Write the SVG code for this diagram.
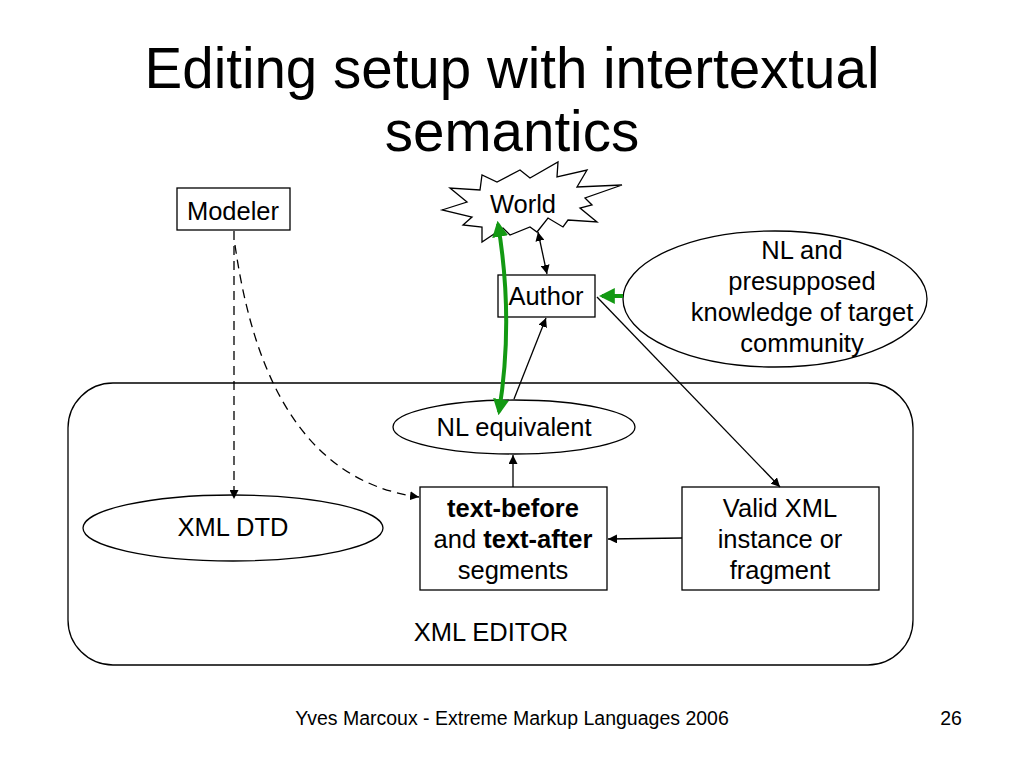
<svg xmlns="http://www.w3.org/2000/svg" width="1024" height="768" viewBox="0 0 1024 768">
<defs>
<style>
text{font-family:"Liberation Sans",Arial,sans-serif;fill:#000}
.t{font-size:25.5px;text-anchor:middle}
.shape{fill:#fff;stroke:#000;stroke-width:1.3}
.ln{fill:none;stroke:#000;stroke-width:1.3}
.dash{stroke-dasharray:9,6}
.g{fill:none;stroke:#139913;stroke-width:4}
</style>
<marker id="ah" viewBox="0 0 10 10" refX="10" refY="5" markerWidth="9" markerHeight="9" markerUnits="userSpaceOnUse" orient="auto-start-reverse"><path d="M0,0 L10,5 L0,10 z" fill="#000"/></marker>
<marker id="gh" viewBox="0 0 10 10" refX="8" refY="5" markerWidth="4" markerHeight="4" orient="auto-start-reverse"><path d="M0,0 L10,5 L0,10 z" fill="#139913"/></marker>
</defs>
<rect width="1024" height="768" fill="#fff"/>
<text x="512" y="88" font-size="56.5" text-anchor="middle">Editing setup with intertextual</text>
<text x="512" y="151" font-size="56.5" text-anchor="middle">semantics</text>

<g id="editor"><rect class="shape" x="68" y="383" width="845" height="282" rx="45"/><text class="t" x="491" y="641">XML EDITOR</text></g>

<g id="world"><polygon class="shape" points="442,210 467,202 450,188 480,190 482,175 497,182 520,170 530,178 558,162 557,177 587,170 577,187 622,185 585,198 592,205 580,208 597,222 568,220 563,227 548,218 537,232 530,227 510,235 503,228 482,242 482,227 463,225 472,217"/><text class="t" x="523" y="213">World</text></g>
<g id="modeler"><rect class="shape" x="177" y="188" width="113" height="42"/><text class="t" x="233" y="220">Modeler</text></g>
<g id="author"><rect class="shape" x="498" y="275" width="97" height="42"/><text class="t" x="546" y="305">Author</text></g>
<g id="nlknow"><ellipse class="shape" cx="775" cy="299" rx="152" ry="68"/><text class="t" x="802" y="259">NL and</text><text class="t" x="802" y="290">presupposed</text><text class="t" x="802" y="321">knowledge of target</text><text class="t" x="802" y="352">community</text></g>
<g id="nleq"><ellipse class="shape" cx="514" cy="427" rx="121" ry="27"/><text class="t" x="514" y="436">NL equivalent</text></g>
<g id="dtd"><ellipse class="shape" cx="233" cy="528" rx="150" ry="33"/><text class="t" x="233" y="536">XML DTD</text></g>
<g id="segs"><rect class="shape" x="420" y="487" width="187" height="103"/><text class="t" x="513" y="517" font-weight="bold">text-before</text><text class="t" x="513" y="548">and <tspan font-weight="bold">text-after</tspan></text><text class="t" x="513" y="579">segments</text></g>
<g id="valid"><rect class="shape" x="682" y="487" width="197" height="103"/><text class="t" x="780" y="517">Valid XML</text><text class="t" x="780" y="548">instance or</text><text class="t" x="780" y="579">fragment</text></g>

<g id="connectors">
<path class="ln dash" d="M234,231 V499" marker-end="url(#ah)"/>
<path class="ln dash" d="M235,245 C250,350 290,480 419,497" marker-end="url(#ah)"/>
<path class="ln" d="M514,399 L546,318" marker-end="url(#ah)"/>
<path class="ln" d="M513,487 V455" marker-end="url(#ah)"/>
<path class="ln" d="M682,538 L608,539" marker-end="url(#ah)"/>
<path class="ln" d="M597,297 L780,487" marker-end="url(#ah)"/>
<path class="ln" d="M538,232 L547,274" marker-start="url(#ah)" marker-end="url(#ah)"/>
<path class="g" d="M498,224 C509,290 509,350 499,412" marker-start="url(#gh)" marker-end="url(#gh)"/>
<path class="g" d="M623,296 L602,296" marker-end="url(#gh)"/>
</g>

<text x="512" y="725" font-size="19.5" text-anchor="middle">Yves Marcoux - Extreme Markup Languages 2006</text>
<text x="951" y="725" font-size="19.5" text-anchor="middle">26</text>
</svg>
